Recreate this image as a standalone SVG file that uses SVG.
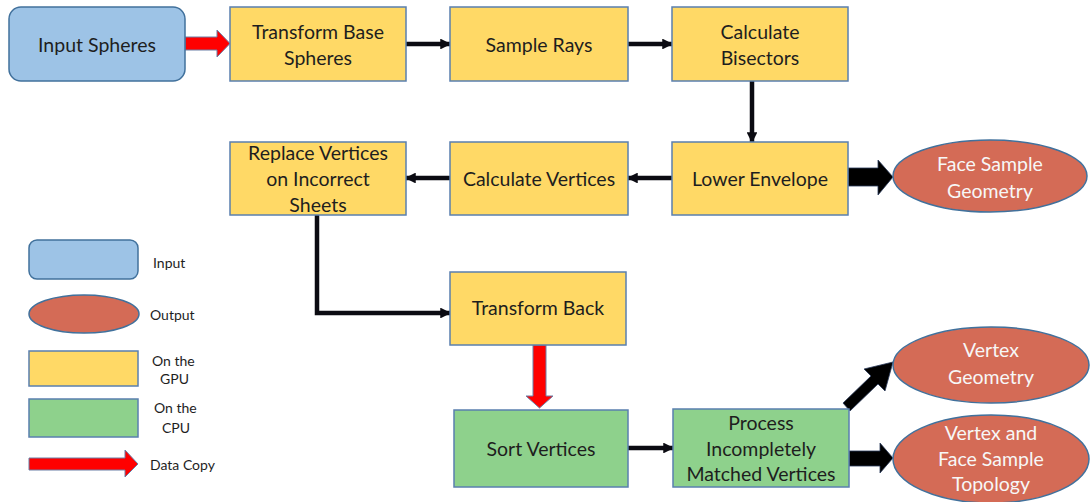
<svg xmlns="http://www.w3.org/2000/svg" width="1090" height="502" viewBox="0 0 1090 502">
<defs>
<style>
.t{font-family:Lato,"Open Sans","Liberation Sans",sans-serif;font-size:19.5px;fill:#1e1e1e;text-anchor:middle;dominant-baseline:central}
.w{fill:#f7f7f7}
.s{font-size:14px;text-anchor:start}
.in{fill:#9DC3E6;stroke:#41719C;stroke-width:1.5}
.gpu{fill:#FFD966;stroke:#5A7FAF;stroke-width:1.5}
.cpu{fill:#8ED18C;stroke:#5A7FAF;stroke-width:1.5}
.out{fill:#D46B56;stroke:#41719C;stroke-width:1.5}
.c{fill:none;stroke:#0b0b12;stroke-width:4.5;marker-end:url(#ah)}
.red{fill:#FF0000;stroke:#6a7fa6;stroke-width:1}
.blk{fill:#000;stroke:#2a3a5a;stroke-width:0.8}
</style>
<marker id="ah" viewBox="0 0 10 10" refX="9" refY="5" markerWidth="2.4" markerHeight="2.4" orient="auto" markerUnits="strokeWidth">
<path d="M0,0 L10,5 L0,10 Z" fill="#0b0b12"/>
</marker>
</defs>
<rect width="1090" height="502" fill="#fff"/>

<g id="connectors">
<polygon class="red" points="185,37 217,37 217,30 230,43.5 217,57 217,50 185,50"/>
<line class="c" x1="406" y1="44" x2="450" y2="44"/>
<line class="c" x1="628" y1="44" x2="672" y2="44"/>
<line class="c" x1="752" y1="81" x2="752" y2="142"/>
<line class="c" x1="672" y1="178" x2="628" y2="178"/>
<line class="c" x1="450" y1="178" x2="406" y2="178"/>
<polyline class="c" points="317,215 317,313 450,313"/>
<polygon class="blk" points="848,168 878,168 878,160 893,177 878,195 878,186 848,186"/>
<polygon class="red" points="533,345 546,345 546,396 553,396 539.5,408 526,396 533,396"/>
<line class="c" x1="628" y1="448" x2="673" y2="448"/>
<polygon class="blk" points="843,403 871,376 864,369 893,362 885,391 878,384 850,411"/>
<polygon class="blk" points="849,451 880,451 880,443 893,458 880,473 880,466 849,466"/>
</g>

<g id="input-spheres">
<rect class="in" x="9" y="7" width="176" height="74" rx="12"/>
<text class="t" x="97" y="44">Input Spheres</text>
</g>
<g id="transform-base-spheres">
<rect class="gpu" x="230" y="7" width="176" height="74"/>
<text class="t" x="318" y="31">Transform Base</text>
<text class="t" x="318" y="57">Spheres</text>
</g>
<g id="sample-rays">
<rect class="gpu" x="450" y="7" width="178" height="74"/>
<text class="t" x="539" y="44">Sample Rays</text>
</g>
<g id="calculate-bisectors">
<rect class="gpu" x="672" y="7" width="176" height="74"/>
<text class="t" x="760" y="31">Calculate</text>
<text class="t" x="760" y="57">Bisectors</text>
</g>
<g id="lower-envelope">
<rect class="gpu" x="672" y="142" width="176" height="73"/>
<text class="t" x="760" y="178">Lower Envelope</text>
</g>
<g id="calculate-vertices">
<rect class="gpu" x="450" y="142" width="178" height="73"/>
<text class="t" x="539" y="178">Calculate Vertices</text>
</g>
<g id="replace-vertices">
<rect class="gpu" x="230" y="142" width="176" height="73"/>
<text class="t" x="318" y="152">Replace Vertices</text>
<text class="t" x="318" y="178">on Incorrect</text>
<text class="t" x="318" y="204">Sheets</text>
</g>
<g id="face-sample-geometry">
<ellipse class="out" cx="990" cy="176" rx="97" ry="36"/>
<text class="t w" x="990" y="163">Face Sample</text>
<text class="t w" x="990" y="190">Geometry</text>
</g>
<g id="transform-back">
<rect class="gpu" x="450" y="272" width="176" height="73"/>
<text class="t" x="538" y="307">Transform Back</text>
</g>
<g id="sort-vertices">
<rect class="cpu" x="454" y="410" width="174" height="77"/>
<text class="t" x="541" y="448">Sort Vertices</text>
</g>
<g id="process-vertices">
<rect class="cpu" x="673" y="409" width="176" height="78"/>
<text class="t" x="761" y="422">Process</text>
<text class="t" x="761" y="448">Incompletely</text>
<text class="t" x="761" y="473">Matched Vertices</text>
</g>
<g id="vertex-geometry">
<ellipse class="out" cx="991" cy="365" rx="98" ry="38"/>
<text class="t w" x="991" y="349">Vertex</text>
<text class="t w" x="991" y="376">Geometry</text>
</g>
<g id="vertex-face-topology">
<ellipse class="out" cx="991" cy="459" rx="98" ry="44"/>
<text class="t w" x="991" y="432">Vertex and</text>
<text class="t w" x="991" y="458">Face Sample</text>
<text class="t w" x="991" y="483">Topology</text>
</g>

<g id="legend">
<rect class="in" x="29" y="240" width="109" height="39" rx="8"/>
<text class="t s" x="153" y="262">Input</text>
<ellipse class="out" cx="84" cy="314" rx="55" ry="19"/>
<text class="t s" x="150" y="314">Output</text>
<rect class="gpu" x="29" y="351" width="109" height="35"/>
<text class="t s" x="152" y="360">On the</text>
<text class="t s" x="160" y="378">GPU</text>
<rect class="cpu" x="29" y="399" width="109" height="38"/>
<text class="t s" x="154" y="407">On the</text>
<text class="t s" x="162" y="427">CPU</text>
<polygon class="red" points="29,458 125,458 125,450 138,464 125,477 125,470 29,470"/>
<text class="t s" x="150" y="464">Data Copy</text>
</g>
</svg>
